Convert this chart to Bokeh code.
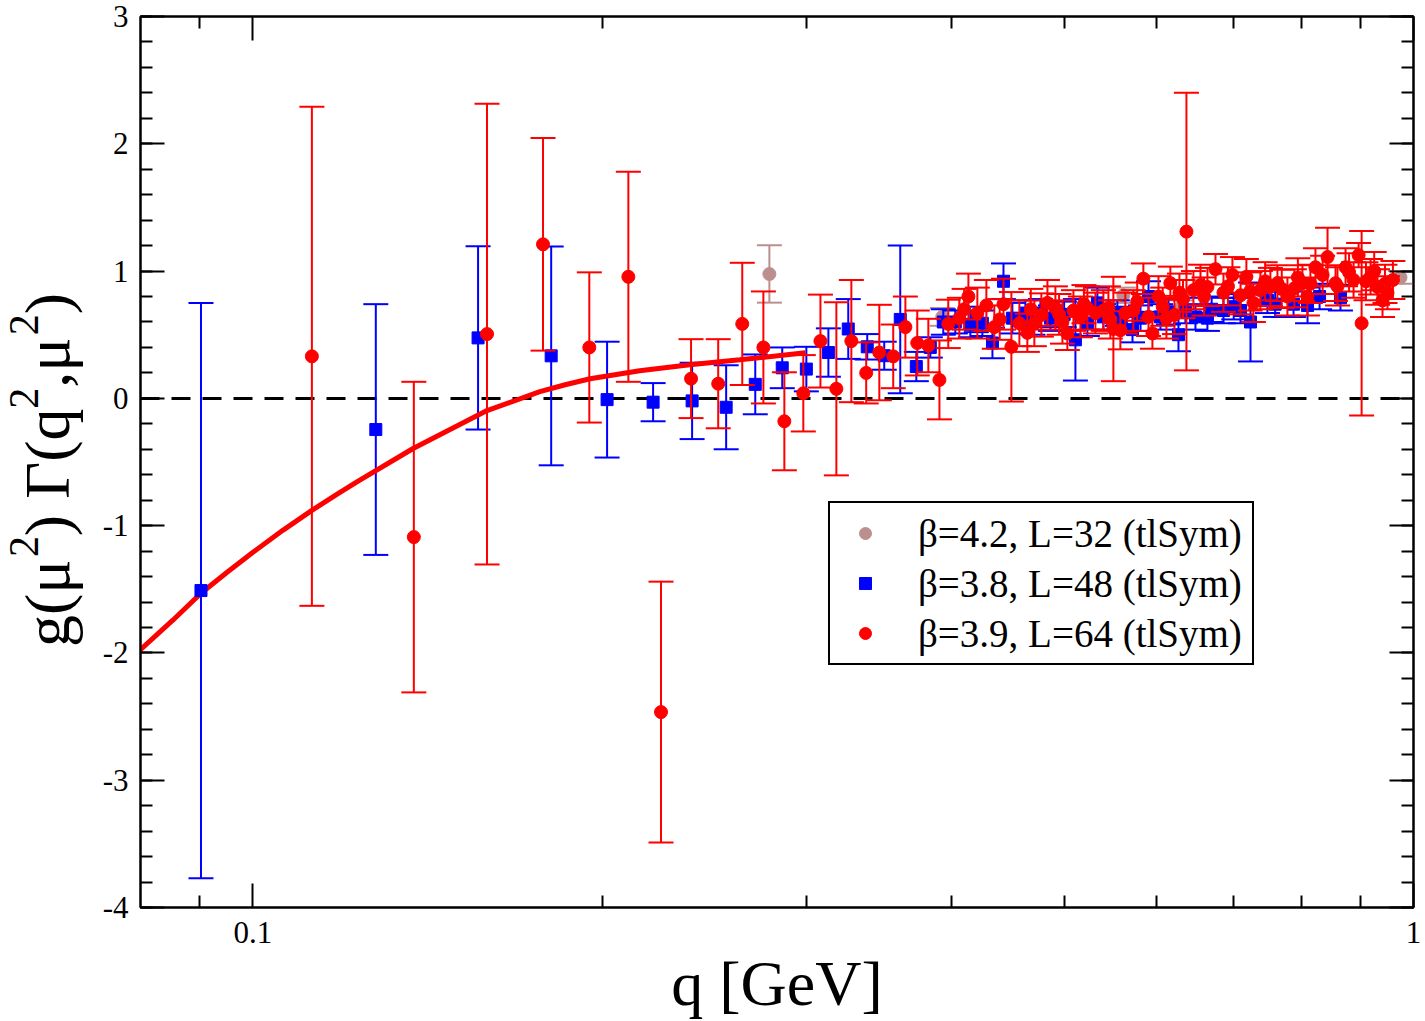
import math
import numpy as np
from bokeh.plotting import figure
from bokeh.layouts import row
from bokeh.models import (Range1d, FixedTicker, LinearAxis, LogAxis,
                          Legend, LegendItem, ColumnDataSource, CustomJSTickFormatter)
from bokeh.core.properties import value
from bokeh.embed import file_html
from bokeh.resources import INLINE

SERIF = "Liberation Serif"

# ---- beta=4.2, L=32 (tlSym) ----
q_b42 = [0.2786, 0.3926, 0.5623, 0.6297, 0.9745]
g_b42 = [0.977, 0.64, 0.81, 0.71, 0.95]
e_b42 = [0.225, 0.07, 0.06, 0.06, 0.05]

# ---- beta=3.8, L=48 (tlSym) ----
q_b38 = [0.0902, 0.1276, 0.1563, 0.1807, 0.2019, 0.2212, 0.2390, 0.2557, 0.2709, 0.2858,
         0.2998, 0.3132, 0.3258, 0.3383, 0.3499, 0.3612, 0.3729, 0.3834, 0.3934, 0.4029,
         0.4151, 0.4251, 0.4337, 0.4433, 0.4512, 0.4630, 0.4770, 0.4866, 0.5113, 0.5236,
         0.5341, 0.5405, 0.5557, 0.5726, 0.5818, 0.5911, 0.6053, 0.6273, 0.6360, 0.6488,
         0.6644, 0.6859, 0.7095, 0.7237, 0.7484, 0.7882, 0.8104, 0.8651,
         0.4200, 0.4700, 0.5000, 0.5600, 0.6150, 0.6700, 0.7000, 0.7600, 0.8300]
g_b38 = [-1.51, -0.245, 0.475, 0.334, -0.01, -0.03, -0.02, -0.07, 0.11, 0.24,
         0.23, 0.36, 0.545, 0.405, 0.335, 0.62, 0.25, 0.40, 0.60, 0.60,
         0.58, 0.59, 0.435, 0.92, 0.63, 0.67, 0.67, 0.63, 0.46, 0.59,
         0.75, 0.64, 0.67, 0.54, 0.63, 0.80, 0.64, 0.50, 0.69, 0.64,
         0.63, 0.69, 0.69, 0.60, 0.77, 0.74, 0.73, 0.79,
         0.62, 0.60, 0.66, 0.62, 0.68, 0.70, 0.72, 0.74, 0.80]
e_b38 = [2.26, 0.985, 0.72, 0.86, 0.455, 0.15, 0.30, 0.33, 0.235, 0.16,
         0.175, 0.19, 0.235, 0.10, 0.11, 0.58, 0.115, 0.08, 0.10, 0.09,
         0.10, 0.10, 0.12, 0.14, 0.12, 0.10, 0.11, 0.10, 0.32, 0.10,
         0.12, 0.10, 0.10, 0.10, 0.10, 0.12, 0.10, 0.13, 0.10, 0.10,
         0.10, 0.10, 0.10, 0.31, 0.10, 0.10, 0.14, 0.10,
         0.10, 0.10, 0.10, 0.10, 0.10, 0.10, 0.10, 0.10, 0.10]

# ---- beta=3.9, L=64 (tlSym) ----
q_b39 = [0.1124, 0.1376, 0.1591, 0.1778, 0.1949, 0.2106, 0.2247, 0.2385, 0.2517, 0.2640,
         0.2753, 0.2870, 0.2980, 0.3083, 0.3182, 0.3278, 0.3376, 0.3465, 0.3562, 0.3649,
         0.3736, 0.3819, 0.3904, 0.3973, 0.4061, 0.4135, 0.4209, 0.4285, 0.4353, 0.4433,
         0.4503, 0.4575, 0.4648, 0.4713, 0.4779, 0.4837, 0.4914, 0.4983, 0.5032, 0.5093,
         0.5164, 0.5236, 0.5320, 0.5405, 0.5459, 0.5513, 0.5590, 0.5645, 0.5736, 0.5851,
         0.5911, 0.5957, 0.6029, 0.6125, 0.6173, 0.6223, 0.6285, 0.6373, 0.6462, 0.6553,
         0.6644, 0.6751, 0.6859, 0.6982, 0.7095, 0.7178, 0.7279, 0.7380, 0.7528, 0.7634,
         0.7787, 0.7895, 0.8022, 0.8102, 0.8232, 0.8432, 0.8567, 0.8739, 0.8879, 0.8968,
         0.9022, 0.9184, 0.9311, 0.9404, 0.9497,
         0.4100, 0.4400, 0.4680, 0.4950, 0.5200, 0.5480, 0.5780, 0.6080, 0.6330, 0.6600,
         0.6920, 0.7230, 0.7450, 0.7700, 0.7950, 0.8150, 0.8350, 0.8600, 0.8800, 0.9100,
         0.9250, 0.9450, 0.9600]
g_b39 = [0.33, -1.09, 0.505, 1.21, 0.40, 0.955, -2.465, 0.155, 0.115, 0.585,
         0.40, -0.18, 0.04, 0.45, 0.075, 0.45, 0.20, 0.36, 0.33, 0.56,
         0.435, 0.415, 0.145, 0.585, 0.63, 0.80, 0.67, 0.73, 0.56, 0.74,
         0.405, 0.59, 0.515, 0.59, 0.655, 0.75, 0.71, 0.60, 0.51, 0.69,
         0.64, 0.71, 0.67, 0.69, 0.71, 0.545, 0.535, 0.67, 0.69, 0.94,
         0.64, 0.51, 0.80, 0.63, 0.905, 0.655, 0.83, 1.31, 0.85, 0.89,
         0.875, 1.015, 0.83, 0.97, 0.81, 0.955, 0.75, 0.85, 0.875, 0.905,
         0.80, 0.865, 0.905, 0.80, 1.03, 1.11, 0.905, 1.03, 0.93, 1.125,
         0.59, 0.955, 0.875, 0.77, 0.83,
         0.70, 0.62, 0.70, 0.66, 0.74, 0.62, 0.76, 0.72, 0.78, 0.80,
         0.88, 0.84, 0.92, 0.86, 0.95, 0.90, 0.97, 0.88, 0.99, 0.92,
         1.00, 0.90, 0.93]
e_b39 = [1.96, 1.22, 1.81, 0.835, 0.59, 0.825, 1.025, 0.31, 0.35, 0.48,
         0.44, 0.385, 0.30, 0.365, 0.68, 0.48, 0.24, 0.375, 0.25, 0.24,
         0.255, 0.21, 0.31, 0.19, 0.16, 0.18, 0.20, 0.20, 0.17, 0.20,
         0.43, 0.18, 0.15, 0.18, 0.17, 0.18, 0.17, 0.17, 0.13, 0.16,
         0.16, 0.17, 0.16, 0.16, 0.17, 0.41, 0.15, 0.16, 0.16, 0.12,
         0.15, 0.12, 0.16, 0.16, 0.13, 0.15, 0.15, 1.09, 0.15, 0.16,
         0.15, 0.12, 0.15, 0.14, 0.15, 0.14, 0.15, 0.15, 0.15, 0.14,
         0.15, 0.15, 0.14, 0.15, 0.15, 0.23, 0.14, 0.15, 0.14, 0.095,
         0.725, 0.14, 0.14, 0.13, 0.13,
         0.16, 0.16, 0.16, 0.16, 0.15, 0.15, 0.15, 0.15, 0.15, 0.15,
         0.15, 0.15, 0.15, 0.15, 0.15, 0.15, 0.15, 0.15, 0.15, 0.15,
         0.15, 0.15, 0.15]

# ---- infrared fit curve ----
q_fit = [0.0799, 0.0853, 0.0902, 0.0950, 0.1, 0.1061, 0.1124, 0.1181, 0.1231, 0.1374,
         0.1591, 0.1767, 0.1858, 0.1952, 0.2154, 0.2379, 0.2627, 0.2992]
g_fit = [-1.978, -1.743, -1.531, -1.366, -1.209, -1.037, -0.880, -0.755, -0.653, -0.394,
         -0.096, 0.053, 0.107, 0.154, 0.217, 0.264, 0.303, 0.358]

labels = ["β=4.2, L=32 (tlSym)", "β=3.8, L=48 (tlSym)", "β=3.9, L=64 (tlSym)"]
colors = ["#BC8F8F", "#0000FF", "#FF0000"]

x_major = [0.1, 1.0]
x_minor = [0.09, 0.2, 0.3, 0.4, 0.5, 0.6, 0.7, 0.8, 0.9]
y_major = list(range(-4, 4))
y_minor = [round(-4 + 0.2 * i, 1) for i in range(36)]

W, H = 1425, 1021
LABEL_W = 96
B_TOP, B_BOTTOM = 16, 112

p = figure(width=W - LABEL_W, height=H, x_axis_type="log",
           x_range=Range1d(0.08, 1.0), y_range=Range1d(-4, 3),
           output_backend="svg", toolbar_location=None,
           min_border_left=140 - LABEL_W, min_border_right=12,
           min_border_top=B_TOP, min_border_bottom=B_BOTTOM)
p.grid.visible = False
p.outline_line_color = "black"
p.outline_line_width = 2
p.background_fill_color = "white"
p.border_fill_color = "white"

xt = FixedTicker(ticks=x_major, minor_ticks=x_minor)
yt = FixedTicker(ticks=y_major, minor_ticks=y_minor)

xa = p.xaxis[0]
ya = p.yaxis[0]
xa.ticker = xt
ya.ticker = yt
xa.formatter = CustomJSTickFormatter(code="return String(tick)")
ya.formatter = CustomJSTickFormatter(code="return String(tick)")

top = LogAxis(ticker=xt, formatter=CustomJSTickFormatter(code="return ''"))
right = LinearAxis(ticker=yt, formatter=CustomJSTickFormatter(code="return ''"))
p.add_layout(top, "above")
p.add_layout(right, "right")

for ax in (xa, ya, top, right):
    ax.major_tick_in = 24
    ax.major_tick_out = 0
    ax.minor_tick_in = 12
    ax.minor_tick_out = 0
    ax.major_tick_line_width = 2
    ax.minor_tick_line_width = 2
    ax.major_tick_line_color = "black"
    ax.minor_tick_line_color = "black"
    ax.axis_line_color = "black"
    ax.axis_line_width = 2
    ax.major_label_text_font = SERIF
    ax.major_label_text_color = "black"

for ax in (top, right):
    ax.major_label_standoff = 0
    ax.major_label_text_font_size = "1px"

xa.major_label_text_font_size = "31px"
ya.major_label_text_font_size = "31px"
xa.major_label_standoff = 14
ya.major_label_standoff = 12

xa.axis_label = "q [GeV]"
xa.axis_label_text_font = SERIF
xa.axis_label_text_font_size = "64px"
xa.axis_label_text_font_style = "normal"
xa.axis_label_text_color = "black"
xa.axis_label_standoff = 2


def error_bars(q, g, e, color):
    g = np.asarray(g, dtype=float)
    e = np.asarray(e, dtype=float)
    src = ColumnDataSource(dict(q=q, g=g, lo=g - e, hi=g + e))
    p.segment(x0="q", y0="lo", x1="q", y1="hi", source=src, line_color=color, line_width=2)
    for key in ("lo", "hi"):
        p.scatter(x="q", y=key, marker="dash", size=25, line_color=color,
                  line_width=2, source=src)
    return src


# zero reference line
p.hspan(y=[0], line_color="black", line_width=3, line_dash="19 12")

src42 = error_bars(q_b42, g_b42, e_b42, colors[0])
r42 = p.scatter(x="q", y="g", source=src42, marker="circle", size=13,
                fill_color=colors[0], line_color=colors[0])

src38 = error_bars(q_b38, g_b38, e_b38, colors[1])
p.line(q_fit, g_fit, line_color="#FF0000", line_width=5)
r38 = p.scatter(x="q", y="g", source=src38, marker="square", size=12,
                fill_color=colors[1], line_color=colors[1])

src39 = error_bars(q_b39, g_b39, e_b39, colors[2])
r39 = p.scatter(x="q", y="g", source=src39, marker="circle", size=13,
                fill_color=colors[2], line_color=colors[2])

legend = Legend(items=[LegendItem(label=labels[0], renderers=[r42]),
                       LegendItem(label=labels[1], renderers=[r38]),
                       LegendItem(label=labels[2], renderers=[r39])],
                location=(688, 242), margin=0, padding=7, spacing=4,
                glyph_width=56, glyph_height=30, label_height=46, label_width=327,
                label_standoff=25, label_text_font=SERIF, label_text_font_size="39px",
                label_text_color="black", border_line_color="black",
                border_line_alpha=1.0, border_line_width=2,
                background_fill_color="white", background_fill_alpha=1.0)
p.add_layout(legend)

# ---- y-axis title strip: g(mu^2) Gamma(q^2, mu^2) with raised exponents ----
# the strip's frame shares the main plot's top/bottom borders, so its y range is
# expressed in pixels measured up from the bottom of the page
lab = figure(width=LABEL_W, height=H, x_range=Range1d(0, LABEL_W),
             y_range=Range1d(B_BOTTOM, H - B_TOP),
             x_axis_location=None, y_axis_location=None, toolbar_location=None,
             output_backend="svg", min_border_left=0, min_border_right=0,
             min_border_top=B_TOP, min_border_bottom=B_BOTTOM)
lab.grid.visible = False
lab.outline_line_color = None
lab.background_fill_color = "white"
lab.border_fill_color = "white"

main_fs, sup_fs = 64, 42
main_w = {"g(μ": 1.409, ") Γ(q": 1.994, ",μ": 0.826, ")": 0.333}
pieces = [("g(μ", False), ("2", True), (") Γ(q", False), ("2", True),
          (",μ", False), ("2", True), (")", False)]
main_base, sup_base = 77, 40      # baseline columns, px from the left edge
main_shift, sup_shift = 0.47, 0.40   # anchor-to-baseline offset of rotated text, in em
pos = H - 648
mx, my, mt, sx, sy, st = [], [], [], [], [], []
for txt, sup in pieces:
    if sup:
        sx.append(sup_base - sup_shift * sup_fs); sy.append(pos); st.append(txt)
        pos += 0.5 * sup_fs
    else:
        mx.append(main_base - main_shift * main_fs); my.append(pos); mt.append(txt)
        pos += main_w[txt] * main_fs

lab.text(x=mx, y=my, text=mt, angle=math.pi / 2, text_align="left",
         text_baseline="alphabetic", text_font=value(SERIF),
         text_font_size=f"{main_fs}px", text_color="black")
lab.text(x=sx, y=sy, text=st, angle=math.pi / 2, text_align="left",
         text_baseline="alphabetic", text_font=value(SERIF),
         text_font_size=f"{sup_fs}px", text_color="black")

layout = row(lab, p, spacing=0)
open("out.html", "w").write(file_html(layout, INLINE))
